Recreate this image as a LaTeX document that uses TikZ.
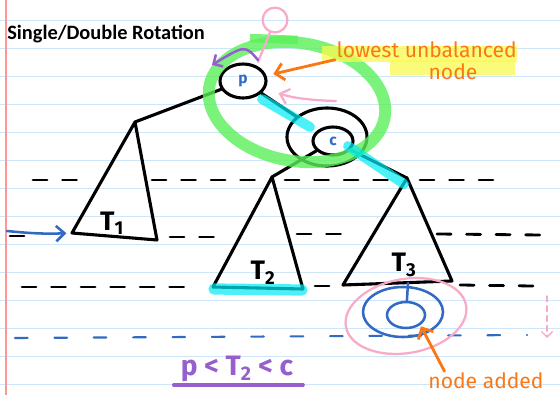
\documentclass[tikz,border=0pt]{standalone}
\usepackage{fontspec}
\newfontfamily\titlefont{Carlito}
\newfontfamily\handfont{Fira Sans}
\usetikzlibrary{arrows.meta,positioning,shapes.geometric,calc}

\definecolor{paperline}{RGB}{205,230,250}
\definecolor{margin}{RGB}{255,150,150}
\definecolor{penblue}{RGB}{50,105,195}
\definecolor{penorange}{RGB}{250,120,20}
\definecolor{penpink}{RGB}{248,170,200}
\definecolor{penpurple}{RGB}{150,95,205}
\definecolor{hlgreen}{RGB}{90,240,90}
\definecolor{hlcyan}{RGB}{0,235,245}
\definecolor{hlyellow}{RGB}{250,250,80}

\begin{document}
\begin{tikzpicture}[x=0.025cm, y=-0.025cm,
  ruled/.style={draw=paperline, line width=0.7pt},
  ink/.style={draw=black, line width=2.2pt, line cap=round, line join=round},
  dashink/.style={ink, line width=2pt, dash pattern=on 10pt off 11pt},
  dashblue/.style={draw=penblue, line width=1.5pt, line cap=round, dash pattern=on 9pt off 19pt},
  treenode/.style={ellipse, ink, inner sep=0pt, text=penblue,
                   font=\handfont\bfseries\fontsize{11}{11}\selectfont},
  bluepen/.style={draw=penblue, line width=1.8pt, line cap=round},
  pinkpen/.style={draw=penpink, line width=1.6pt, line cap=round},
  opn/.style={draw=penorange, line width=2pt, line cap=round, -{Straight Barb[length=6pt,width=12pt]}},
  hand/.style={font=\handfont\fontsize{15}{15}\selectfont, inner sep=1pt},
  tlbl/.style={font=\handfont\bfseries\fontsize{19}{19}\selectfont, inner sep=0pt},
  hlg/.style={draw=hlgreen, line width=8.5pt, opacity=0.8},
  hlc/.style={draw=hlcyan, line width=7pt, opacity=0.7, line cap=round},
]
\fill[white] (0,0) rectangle (560,395);
\useasboundingbox (0,0) rectangle (560,395);

% paper
\foreach \y in {20,48,...,384}
  \draw[ruled] (0,\y) -- (560,\y);
\draw[draw=margin, line width=1pt] (6,0) -- (6,395);

\node[anchor=base west, inner sep=0pt, font=\titlefont\bfseries\fontsize{14.5}{14.5}\selectfont]
  (title) at (7,39) {Single/Double Rotation};

% level lines
\draw[dashink] (33,180) -- (92,180);
\draw[dashink] (152,180) -- (262,180);
\draw[dashink] (285,180) -- (395,180);
\draw[dashink] (420,180) -- (493,180);
\draw[dashink] (10,236) -- (35,236);
\draw[dashink] (170,237) -- (222,237);
\draw[dashink] (297,234) -- (352,234);
\draw[dashink] (437,234) -- (543,235);
\draw[dashink] (22,287) -- (190,287);
\draw[dashink] (315,286) -- (332,286);
\draw[dashink] (460,285) -- (533,286);
\draw[dashblue] (15,338) -- (527,335);

% tree
\node[treenode, minimum width=1.15cm, minimum height=0.85cm] (P) at (243,81) {p};
\node[treenode, minimum width=1.0cm, minimum height=0.7cm] (C) at (333,141) {c};
\node[ellipse, ink, minimum width=2.0cm, minimum height=1.45cm] (Cring) at (327,137) {};

\coordinate (t1top) at (135,122);
\coordinate (t1l) at (72,233);
\coordinate (t1r) at (157,240);
\coordinate (t2top) at (272,177);
\coordinate (t2l) at (213,287);
\coordinate (t2r) at (303,289);
\coordinate (t3top) at (407,178);
\coordinate (t3l) at (343,285);
\coordinate (t3r) at (452,281);

\draw[ink] (P) -- (t1top);
\draw[ink] (P) -- (Cring);
\draw[ink] (C) -- (t2top);
\draw[ink] (C) -- (t3top);
\draw[ink] (t1top) -- (t1l) -- (t1r) -- cycle;
\draw[ink] (t2top) -- (t2l) -- (t2r) -- cycle;
\draw[ink] (t3top) -- (t3l) -- (t3r) -- cycle;

\node[tlbl] (T1) at (112,223) {T\textsubscript{1}};
\node[tlbl] (T2) at (263,273) {T\textsubscript{2}};
\node[tlbl] (T3) at (404,265) {T\textsubscript{3}};

% new node
\coordinate (t3leaf) at (408,283);
\node[ellipse, bluepen, minimum width=0.95cm, minimum height=0.65cm] (N) at (406,315) {};
\node[ellipse, bluepen, minimum width=2.0cm, minimum height=1.25cm] (Nring) at (403,312) {};
\node[ellipse, pinkpen, minimum width=3.05cm, minimum height=1.85cm, rotate=10] (Nhalo) at (406,316) {};
\draw[bluepen] (t3leaf) -- (N);

% highlights
\draw[hlg, rotate around={-10:(297,102)}] (297,102) ellipse [x radius=89, y radius=59];
\draw[hlg, line width=6pt] (250,38) -- (298,40);
\draw[hlc] (262,99) -- (310,127);
\draw[hlc] (348,146) -- (404,184);
\draw[hlc, line width=8pt] (214,289) -- (302,290);
\fill[hlyellow, opacity=0.75] (322,46) rectangle (517,62);
\fill[hlyellow, opacity=0.75] (390,60) rectangle (515,75);

% notes
\node[hand, text=penorange, anchor=west] (lowest) at (335,50) {lowest unbalanced};
\node[hand, text=penorange] (lowest2) at (453,72) {node};
\draw[opn, shorten >=5pt] (lowest.south west) -- (P);

\coordinate (pinkfrom) at (336,101);
\draw[pinkpen, -{Straight Barb[length=6pt,width=11pt]}, shorten >=10pt]
  (pinkfrom) to[bend left=8] (P);
\node[circle, pinkpen, minimum size=0.62cm, inner sep=0pt] (balloon) at (275,20) {};
\coordinate (stick) at (258,62);
\draw[pinkpen] (balloon) -- (stick);

\coordinate (pu1) at (258,60);
\coordinate (pu2) at (212,65);
\draw[draw=penpurple, line width=1.8pt, line cap=round, -{Straight Barb[length=5pt,width=10pt]}]
  (pu1) .. controls (245,45) .. (pu2);

\coordinate (inflow) at (7,231);
\draw[bluepen, -{Straight Barb[length=6pt,width=11pt]}, shorten >=4pt]
  (inflow) to[bend right=4] (t1l);

\node[hand, text=penorange] (added) at (486,381) {node added};
\draw[opn, shorten >=1pt] ($(added.north west)!0.15!(added.north east)$) -- (N.south east);

\coordinate (dropa) at (547,296);
\coordinate (dropb) at (547,338);
\draw[pinkpen, line width=1pt, dash pattern=on 4pt off 3pt, -{Straight Barb[length=4pt,width=8pt]}]
  (dropa) -- (dropb);

\node[text=penpurple, font=\handfont\bfseries\fontsize{20}{20}\selectfont, inner sep=2pt]
  (order) at (237,369) {p < T\textsubscript{2} < c};
\draw[draw=penpurple, line width=2.2pt, line cap=round]
  ([xshift=-3pt]order.south west) -- ([xshift=5pt]order.south east);
\end{tikzpicture}
\end{document}
